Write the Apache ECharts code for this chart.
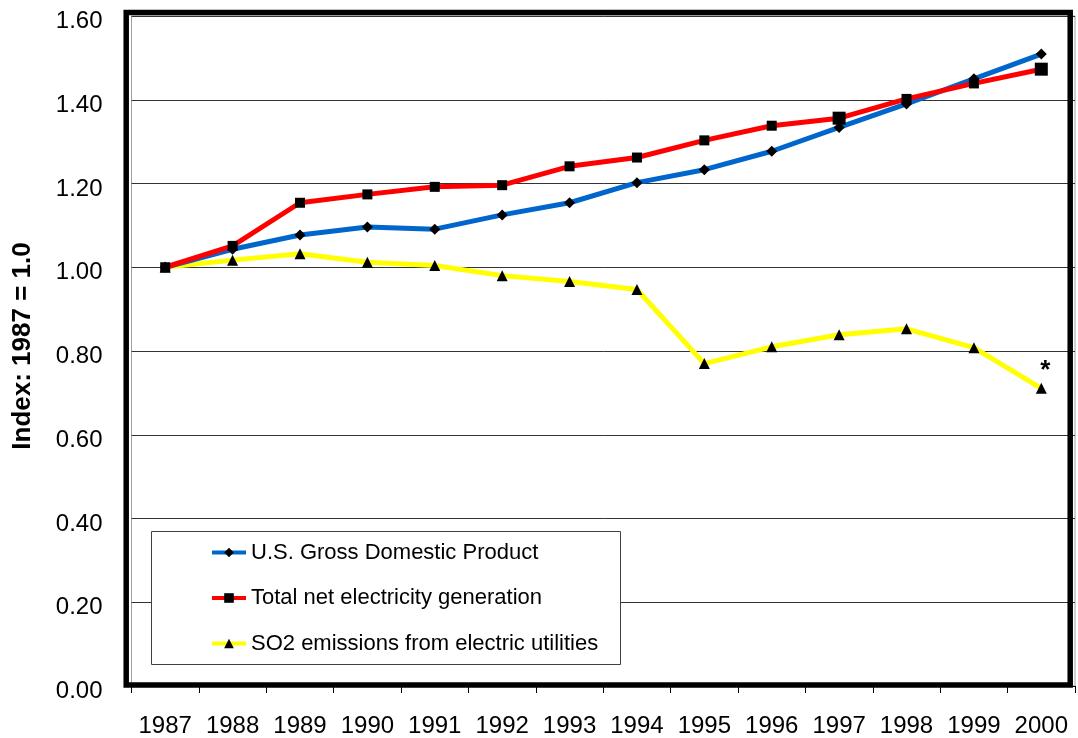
<!DOCTYPE html>
<html>
<head>
<meta charset="utf-8">
<title>Index: 1987 = 1.0</title>
<script src="https://cdn.jsdelivr.net/npm/echarts@6/dist/echarts.min.js"></script>
<style>
  html, body { margin: 0; padding: 0; background: #ffffff; }
  #chart { width: 1078px; height: 738px; }
</style>
</head>
<body>
<div id="chart"></div>
<script>
// Years on the category axis
const years = ['1987', '1988', '1989', '1990', '1991', '1992', '1993',
               '1994', '1995', '1996', '1997', '1998', '1999', '2000'];

// Index values, 1987 = 1.0
const gdp  = [1.000, 1.043, 1.077, 1.096, 1.091, 1.125, 1.154, 1.202, 1.233, 1.277, 1.334, 1.390, 1.450, 1.509];
const elec = [1.000, 1.051, 1.154, 1.174, 1.192, 1.196, 1.241, 1.262, 1.303, 1.338, 1.356, 1.402, 1.439, 1.473];
const so2  = [1.000, 1.017, 1.032, 1.012, 1.004, 0.980, 0.966, 0.947, 0.770, 0.810, 0.839, 0.853, 0.808, 0.711];

// Series names and y-axis ticks
const seriesNames = ['U.S. Gross Domestic Product',
                     'Total net electricity generation',
                     'SO2 emissions from electric utilities'];
const yTicks = [0.00, 0.20, 0.40, 0.60, 0.80, 1.00, 1.20, 1.40, 1.60];
const yTitle = 'Index: 1987 = 1.0';
const footnoteMark = '*';

const FONT = '"Liberation Sans", Arial, Helvetica, sans-serif';

const chart = echarts.init(document.getElementById('chart'), null, { renderer: 'canvas' });

// One single-item legend per series so each row sits inside the framed box
const legendRows = [552.5, 598, 643.5];
const legends = seriesNames.map((name, i) => ({
  data: [name],
  orient: 'vertical',
  left: 210,
  top: legendRows[i] - 11,
  padding: 0,
  itemWidth: 34,
  itemHeight: 12,
  selectedMode: false,
  lineStyle: { width: 4 },
  textStyle: { fontFamily: FONT, fontSize: 22, color: '#000' }
}));

const option = {
  backgroundColor: '#ffffff',
  animation: false,
  textStyle: { fontFamily: FONT },
  grid: {
    left: 131.5, right: 3, top: 16, bottom: 49,
    show: true, borderColor: '#a0a0a0', borderWidth: 1,
    containLabel: false
  },
  legend: legends,
  graphic: [
    // heavy outer frame of the plot area
    {
      type: 'rect', z: 3, silent: true,
      shape: { x: 126.2, y: 12.6, width: 944, height: 672.4 },
      style: { fill: 'none', stroke: '#000', lineWidth: 5.5 }
    },
    // legend box
    {
      type: 'rect', z: 3, silent: true,
      shape: { x: 151.5, y: 531.5, width: 469, height: 133 },
      style: { fill: '#fff', stroke: '#404040', lineWidth: 1 }
    }
  ],
  xAxis: {
    type: 'category',
    data: years,
    boundaryGap: true,
    axisLine: { show: true, lineStyle: { color: '#000', width: 1 } },
    axisTick: { show: true, length: 7, lineStyle: { color: '#000', width: 1 } },
    axisLabel: { color: '#000', fontSize: 24, fontFamily: FONT, margin: 28, interval: 0 },
    splitLine: { show: false }
  },
  yAxis: {
    type: 'value',
    min: yTicks[0],
    max: yTicks[yTicks.length - 1],
    interval: 0.2,
    name: yTitle,
    nameLocation: 'middle',
    nameRotate: 90,
    nameGap: 96,
    nameTextStyle: {
      color: '#000', fontSize: 26, fontWeight: 'bold', fontFamily: FONT,
      padding: [0, 0, 0, 10]
    },
    axisLine: { show: false },
    axisTick: { show: false },
    axisLabel: {
      color: '#000', fontSize: 24, fontFamily: FONT, margin: 29,
      formatter: v => '{v|' + v.toFixed(2) + '}',
      rich: {
        v: { color: '#000', fontSize: 24, fontFamily: FONT, padding: [11, 0, 0, 0] }
      }
    },
    splitLine: { show: true, lineStyle: { color: '#333', width: 1 } }
  },
  series: [
    {
      name: seriesNames[2],
      type: 'line',
      data: so2,
      z: 2,
      symbol: 'triangle',
      symbolSize: 11,
      lineStyle: { color: '#ffff00', width: 5 },
      itemStyle: { color: '#000' },
      label: {
        show: true,
        position: 'top',
        distance: 0,
        offset: [4, 1],
        fontSize: 26,
        fontWeight: 'bold',
        fontFamily: FONT,
        color: '#000',
        formatter: p => (p.dataIndex === years.length - 1 ? footnoteMark : '')
      }
    },
    {
      name: seriesNames[0],
      type: 'line',
      data: gdp,
      z: 3,
      symbol: 'diamond',
      symbolSize: 11,
      lineStyle: { color: '#0066cc', width: 5 },
      itemStyle: { color: '#000' }
    },
    {
      name: seriesNames[1],
      type: 'line',
      data: elec,
      z: 4,
      symbol: 'rect',
      symbolSize: (v, p) => (p.dataIndex === 10 || p.dataIndex === 13 ? 13 : 10),
      lineStyle: { color: '#ff0000', width: 5 },
      itemStyle: { color: '#000' }
    }
  ]
};

chart.setOption(option);
</script>
</body>
</html>
